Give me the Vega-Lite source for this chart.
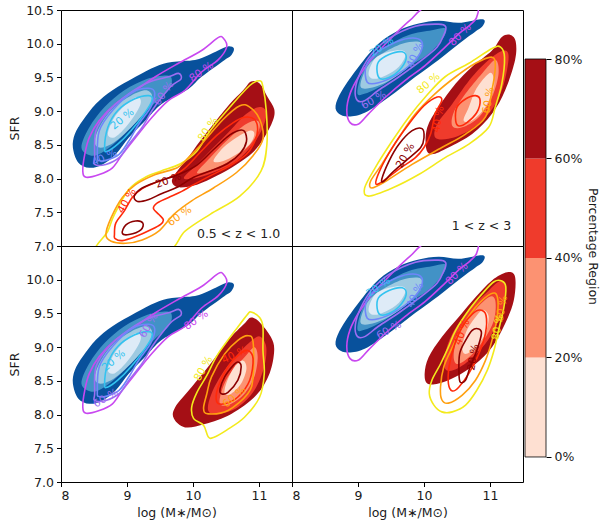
{
"$schema": "https://vega.github.io/schema/vega-lite/v6.json",
"background": "white",
"padding": {"left": 8, "top": 3, "right": 4, "bottom": 5},
"config": {
  "font": "DejaVu Sans",
  "view": {"stroke": "black", "strokeWidth": 1},
  "axis": {"domain": false, "grid": false, "tickColor": "black", "tickSize": 4.5, "labelColor": "#1a1a1a", "labelFontSize": 12.5, "titleFontSize": 12.5, "titleFontWeight": "normal", "titleColor": "#1a1a1a", "labelPadding": 3}
},
"data": {"values": [
{"c":"L","r":"A","k":"b4","x":8.18,"y":8.46},{"c":"L","r":"A","k":"b4","x":8.21,"y":8.66},{"c":"L","r":"A","k":"b4","x":8.33,"y":8.86},{"c":"L","r":"A","k":"b4","x":8.53,"y":9.11},{"c":"L","r":"A","k":"b4","x":8.78,"y":9.31},{"c":"L","r":"A","k":"b4","x":9.13,"y":9.51},{"c":"L","r":"A","k":"b4","x":9.43,"y":9.66},{"c":"L","r":"A","k":"b4","x":9.68,"y":9.73},{"c":"L","r":"A","k":"b4","x":10.03,"y":9.76},{"c":"L","r":"A","k":"b4","x":10.23,"y":9.83},{"c":"L","r":"A","k":"b4","x":10.38,"y":9.90},{"c":"L","r":"A","k":"b4","x":10.53,"y":9.96},{"c":"L","r":"A","k":"b4","x":10.62,"y":9.93},{"c":"L","r":"A","k":"b4","x":10.58,"y":9.83},{"c":"L","r":"A","k":"b4","x":10.48,"y":9.76},{"c":"L","r":"A","k":"b4","x":10.13,"y":9.51},{"c":"L","r":"A","k":"b4","x":9.93,"y":9.33},{"c":"L","r":"A","k":"b4","x":9.53,"y":9.11},{"c":"L","r":"A","k":"b4","x":9.28,"y":8.86},{"c":"L","r":"A","k":"b4","x":9.03,"y":8.61},{"c":"L","r":"A","k":"b4","x":8.83,"y":8.36},{"c":"L","r":"A","k":"b4","x":8.63,"y":8.21},{"c":"L","r":"A","k":"b4","x":8.43,"y":8.16},{"c":"L","r":"A","k":"b4","x":8.26,"y":8.24},
{"c":"L","r":"A","k":"b3","x":8.31,"y":8.46},{"c":"L","r":"A","k":"b3","x":8.43,"y":8.76},{"c":"L","r":"A","k":"b3","x":8.66,"y":9.06},{"c":"L","r":"A","k":"b3","x":8.96,"y":9.31},{"c":"L","r":"A","k":"b3","x":9.31,"y":9.48},{"c":"L","r":"A","k":"b3","x":9.61,"y":9.53},{"c":"L","r":"A","k":"b3","x":9.68,"y":9.46},{"c":"L","r":"A","k":"b3","x":9.63,"y":9.31},{"c":"L","r":"A","k":"b3","x":9.41,"y":9.11},{"c":"L","r":"A","k":"b3","x":9.16,"y":8.86},{"c":"L","r":"A","k":"b3","x":8.91,"y":8.61},{"c":"L","r":"A","k":"b3","x":8.66,"y":8.41},{"c":"L","r":"A","k":"b3","x":8.46,"y":8.34},
{"c":"L","r":"A","k":"b2","x":8.51,"y":8.56},{"c":"L","r":"A","k":"b2","x":8.61,"y":8.81},{"c":"L","r":"A","k":"b2","x":8.81,"y":9.06},{"c":"L","r":"A","k":"b2","x":9.06,"y":9.23},{"c":"L","r":"A","k":"b2","x":9.28,"y":9.31},{"c":"L","r":"A","k":"b2","x":9.38,"y":9.23},{"c":"L","r":"A","k":"b2","x":9.33,"y":9.06},{"c":"L","r":"A","k":"b2","x":9.16,"y":8.86},{"c":"L","r":"A","k":"b2","x":8.96,"y":8.66},{"c":"L","r":"A","k":"b2","x":8.76,"y":8.51},{"c":"L","r":"A","k":"b2","x":8.58,"y":8.46},
{"c":"L","r":"A","k":"b1","x":8.71,"y":8.66},{"c":"L","r":"A","k":"b1","x":8.81,"y":8.91},{"c":"L","r":"A","k":"b1","x":9.01,"y":9.13},{"c":"L","r":"A","k":"b1","x":9.16,"y":9.21},{"c":"L","r":"A","k":"b1","x":9.21,"y":9.13},{"c":"L","r":"A","k":"b1","x":9.13,"y":8.96},{"c":"L","r":"A","k":"b1","x":8.98,"y":8.76},{"c":"L","r":"A","k":"b1","x":8.81,"y":8.61},
{"c":"L","r":"A","k":"p80","x":10.38,"y":10.09},{"c":"L","r":"A","k":"p80","x":10.46,"y":10.08},{"c":"L","r":"A","k":"p80","x":10.51,"y":9.95},{"c":"L","r":"A","k":"p80","x":10.38,"y":9.76},{"c":"L","r":"A","k":"p80","x":10.13,"y":9.58},{"c":"L","r":"A","k":"p80","x":9.88,"y":9.31},{"c":"L","r":"A","k":"p80","x":9.63,"y":9.16},{"c":"L","r":"A","k":"p80","x":9.38,"y":8.91},{"c":"L","r":"A","k":"p80","x":9.13,"y":8.61},{"c":"L","r":"A","k":"p80","x":8.93,"y":8.36},{"c":"L","r":"A","k":"p80","x":8.78,"y":8.16},{"c":"L","r":"A","k":"p80","x":8.58,"y":8.06},{"c":"L","r":"A","k":"p80","x":8.38,"y":8.02},{"c":"L","r":"A","k":"p80","x":8.33,"y":8.11},{"c":"L","r":"A","k":"p80","x":8.36,"y":8.36},{"c":"L","r":"A","k":"p80","x":8.43,"y":8.61},{"c":"L","r":"A","k":"p80","x":8.58,"y":8.86},{"c":"L","r":"A","k":"p80","x":8.83,"y":9.11},{"c":"L","r":"A","k":"p80","x":9.13,"y":9.31},{"c":"L","r":"A","k":"p80","x":9.43,"y":9.51},{"c":"L","r":"A","k":"p80","x":9.78,"y":9.71},{"c":"L","r":"A","k":"p80","x":10.13,"y":9.90},
{"c":"L","r":"A","k":"p60","x":8.51,"y":8.31},{"c":"L","r":"A","k":"p60","x":8.53,"y":8.71},{"c":"L","r":"A","k":"p60","x":8.73,"y":9.01},{"c":"L","r":"A","k":"p60","x":9.03,"y":9.26},{"c":"L","r":"A","k":"p60","x":9.33,"y":9.43},{"c":"L","r":"A","k":"p60","x":9.63,"y":9.51},{"c":"L","r":"A","k":"p60","x":9.78,"y":9.56},{"c":"L","r":"A","k":"p60","x":9.82,"y":9.48},{"c":"L","r":"A","k":"p60","x":9.68,"y":9.38},{"c":"L","r":"A","k":"p60","x":9.53,"y":9.21},{"c":"L","r":"A","k":"p60","x":9.38,"y":9.01},{"c":"L","r":"A","k":"p60","x":9.23,"y":8.76},{"c":"L","r":"A","k":"p60","x":9.03,"y":8.51},{"c":"L","r":"A","k":"p60","x":8.88,"y":8.31},{"c":"L","r":"A","k":"p60","x":8.68,"y":8.21},{"c":"L","r":"A","k":"p60","x":8.51,"y":8.21},
{"c":"L","r":"A","k":"p40","x":8.55,"y":8.33},{"c":"L","r":"A","k":"p40","x":8.58,"y":8.71},{"c":"L","r":"A","k":"p40","x":8.78,"y":9.01},{"c":"L","r":"A","k":"p40","x":9.08,"y":9.28},{"c":"L","r":"A","k":"p40","x":9.33,"y":9.34},{"c":"L","r":"A","k":"p40","x":9.42,"y":9.27},{"c":"L","r":"A","k":"p40","x":9.36,"y":9.06},{"c":"L","r":"A","k":"p40","x":9.18,"y":8.81},{"c":"L","r":"A","k":"p40","x":9.03,"y":8.56},{"c":"L","r":"A","k":"p40","x":8.88,"y":8.36},{"c":"L","r":"A","k":"p40","x":8.68,"y":8.27},{"c":"L","r":"A","k":"p40","x":8.57,"y":8.27},
{"c":"L","r":"A","k":"p20","x":8.66,"y":8.44},{"c":"L","r":"A","k":"p20","x":8.71,"y":8.76},{"c":"L","r":"A","k":"p20","x":8.86,"y":9.01},{"c":"L","r":"A","k":"p20","x":9.11,"y":9.18},{"c":"L","r":"A","k":"p20","x":9.33,"y":9.23},{"c":"L","r":"A","k":"p20","x":9.38,"y":9.16},{"c":"L","r":"A","k":"p20","x":9.26,"y":8.96},{"c":"L","r":"A","k":"p20","x":9.06,"y":8.71},{"c":"L","r":"A","k":"p20","x":8.86,"y":8.51},{"c":"L","r":"A","k":"p20","x":8.71,"y":8.41},
{"c":"L","r":"T","k":"r4","x":10.88,"y":9.44},{"c":"L","r":"T","k":"r4","x":11.01,"y":9.41},{"c":"L","r":"T","k":"r4","x":11.13,"y":9.21},{"c":"L","r":"T","k":"r4","x":11.23,"y":9.03},{"c":"L","r":"T","k":"r4","x":11.21,"y":8.86},{"c":"L","r":"T","k":"r4","x":11.08,"y":8.61},{"c":"L","r":"T","k":"r4","x":10.91,"y":8.39},{"c":"L","r":"T","k":"r4","x":10.66,"y":8.21},{"c":"L","r":"T","k":"r4","x":10.36,"y":8.04},{"c":"L","r":"T","k":"r4","x":10.06,"y":7.91},{"c":"L","r":"T","k":"r4","x":9.78,"y":7.87},{"c":"L","r":"T","k":"r4","x":9.68,"y":7.96},{"c":"L","r":"T","k":"r4","x":9.76,"y":8.11},{"c":"L","r":"T","k":"r4","x":9.91,"y":8.29},{"c":"L","r":"T","k":"r4","x":10.11,"y":8.56},{"c":"L","r":"T","k":"r4","x":10.31,"y":8.81},{"c":"L","r":"T","k":"r4","x":10.56,"y":9.11},{"c":"L","r":"T","k":"r4","x":10.76,"y":9.31},
{"c":"L","r":"T","k":"r3","x":9.86,"y":8.01},{"c":"L","r":"T","k":"r3","x":10.06,"y":8.21},{"c":"L","r":"T","k":"r3","x":10.31,"y":8.46},{"c":"L","r":"T","k":"r3","x":10.56,"y":8.71},{"c":"L","r":"T","k":"r3","x":10.81,"y":8.96},{"c":"L","r":"T","k":"r3","x":11.01,"y":9.06},{"c":"L","r":"T","k":"r3","x":11.11,"y":8.98},{"c":"L","r":"T","k":"r3","x":11.06,"y":8.76},{"c":"L","r":"T","k":"r3","x":10.91,"y":8.51},{"c":"L","r":"T","k":"r3","x":10.66,"y":8.26},{"c":"L","r":"T","k":"r3","x":10.36,"y":8.11},{"c":"L","r":"T","k":"r3","x":10.06,"y":8.01},
{"c":"L","r":"T","k":"r2","x":10.06,"y":8.09},{"c":"L","r":"T","k":"r2","x":10.26,"y":8.31},{"c":"L","r":"T","k":"r2","x":10.51,"y":8.56},{"c":"L","r":"T","k":"r2","x":10.76,"y":8.78},{"c":"L","r":"T","k":"r2","x":10.96,"y":8.86},{"c":"L","r":"T","k":"r2","x":11.01,"y":8.76},{"c":"L","r":"T","k":"r2","x":10.91,"y":8.56},{"c":"L","r":"T","k":"r2","x":10.71,"y":8.36},{"c":"L","r":"T","k":"r2","x":10.46,"y":8.21},{"c":"L","r":"T","k":"r2","x":10.21,"y":8.11},
{"c":"L","r":"T","k":"r1","x":10.31,"y":8.26},{"c":"L","r":"T","k":"r1","x":10.46,"y":8.46},{"c":"L","r":"T","k":"r1","x":10.66,"y":8.61},{"c":"L","r":"T","k":"r1","x":10.86,"y":8.71},{"c":"L","r":"T","k":"r1","x":10.93,"y":8.66},{"c":"L","r":"T","k":"r1","x":10.86,"y":8.51},{"c":"L","r":"T","k":"r1","x":10.66,"y":8.36},{"c":"L","r":"T","k":"r1","x":10.46,"y":8.26},
{"c":"L","r":"T","k":"y80","x":8.56,"y":6.9},{"c":"L","r":"T","k":"y80","x":8.71,"y":7.22},{"c":"L","r":"T","k":"y80","x":8.81,"y":7.47},{"c":"L","r":"T","k":"y80","x":9.03,"y":7.84},{"c":"L","r":"T","k":"y80","x":9.26,"y":8.01},{"c":"L","r":"T","k":"y80","x":9.51,"y":8.11},{"c":"L","r":"T","k":"y80","x":9.81,"y":8.22},{"c":"L","r":"T","k":"y80","x":10.06,"y":8.41},{"c":"L","r":"T","k":"y80","x":10.26,"y":8.71},{"c":"L","r":"T","k":"y80","x":10.56,"y":9.06},{"c":"L","r":"T","k":"y80","x":10.86,"y":9.38},{"c":"L","r":"T","k":"y80","x":11.01,"y":9.45},{"c":"L","r":"T","k":"y80","x":11.06,"y":9.36},{"c":"L","r":"T","k":"y80","x":11.11,"y":9.01},{"c":"L","r":"T","k":"y80","x":11.12,"y":8.51},{"c":"L","r":"T","k":"y80","x":11.03,"y":8.11},{"c":"L","r":"T","k":"y80","x":10.71,"y":7.74},{"c":"L","r":"T","k":"y80","x":10.26,"y":7.47},{"c":"L","r":"T","k":"y80","x":9.88,"y":7.22},{"c":"L","r":"T","k":"y80","x":9.56,"y":6.9},
{"c":"L","r":"T","k":"y60","x":10.11,"y":8.49},{"c":"L","r":"T","k":"y60","x":10.46,"y":8.88},{"c":"L","r":"T","k":"y60","x":10.71,"y":9.08},{"c":"L","r":"T","k":"y60","x":10.86,"y":9.06},{"c":"L","r":"T","k":"y60","x":11.01,"y":8.88},{"c":"L","r":"T","k":"y60","x":11.06,"y":8.59},{"c":"L","r":"T","k":"y60","x":10.91,"y":8.34},{"c":"L","r":"T","k":"y60","x":10.66,"y":8.09},{"c":"L","r":"T","k":"y60","x":10.31,"y":7.86},{"c":"L","r":"T","k":"y60","x":9.98,"y":7.67},{"c":"L","r":"T","k":"y60","x":9.71,"y":7.47},{"c":"L","r":"T","k":"y60","x":9.48,"y":7.22},{"c":"L","r":"T","k":"y60","x":9.23,"y":7.09},{"c":"L","r":"T","k":"y60","x":8.98,"y":7.04},{"c":"L","r":"T","k":"y60","x":8.76,"y":7.07},{"c":"L","r":"T","k":"y60","x":8.68,"y":7.17},{"c":"L","r":"T","k":"y60","x":8.76,"y":7.42},{"c":"L","r":"T","k":"y60","x":8.93,"y":7.72},{"c":"L","r":"T","k":"y60","x":9.13,"y":7.91},{"c":"L","r":"T","k":"y60","x":9.43,"y":8.06},{"c":"L","r":"T","k":"y60","x":9.76,"y":8.16},{"c":"L","r":"T","k":"y60","x":9.93,"y":8.31},
{"c":"L","r":"T","k":"y40","x":8.81,"y":7.17},{"c":"L","r":"T","k":"y40","x":8.83,"y":7.34},{"c":"L","r":"T","k":"y40","x":8.96,"y":7.52},{"c":"L","r":"T","k":"y40","x":9.08,"y":7.72},{"c":"L","r":"T","k":"y40","x":9.23,"y":7.85},{"c":"L","r":"T","k":"y40","x":9.43,"y":7.94},{"c":"L","r":"T","k":"y40","x":9.63,"y":8.01},{"c":"L","r":"T","k":"y40","x":9.86,"y":8.14},{"c":"L","r":"T","k":"y40","x":10.11,"y":8.39},{"c":"L","r":"T","k":"y40","x":10.36,"y":8.64},{"c":"L","r":"T","k":"y40","x":10.61,"y":8.83},{"c":"L","r":"T","k":"y40","x":10.78,"y":8.91},{"c":"L","r":"T","k":"y40","x":10.93,"y":8.88},{"c":"L","r":"T","k":"y40","x":10.98,"y":8.73},{"c":"L","r":"T","k":"y40","x":10.93,"y":8.54},{"c":"L","r":"T","k":"y40","x":10.81,"y":8.36},{"c":"L","r":"T","k":"y40","x":10.56,"y":8.19},{"c":"L","r":"T","k":"y40","x":10.26,"y":8.04},{"c":"L","r":"T","k":"y40","x":10.01,"y":7.91},{"c":"L","r":"T","k":"y40","x":9.83,"y":7.81},{"c":"L","r":"T","k":"y40","x":9.63,"y":7.72},{"c":"L","r":"T","k":"y40","x":9.46,"y":7.64},{"c":"L","r":"T","k":"y40","x":9.40,"y":7.56},{"c":"L","r":"T","k":"y40","x":9.48,"y":7.47},{"c":"L","r":"T","k":"y40","x":9.55,"y":7.39},{"c":"L","r":"T","k":"y40","x":9.51,"y":7.32},{"c":"L","r":"T","k":"y40","x":9.36,"y":7.24},{"c":"L","r":"T","k":"y40","x":9.13,"y":7.14},{"c":"L","r":"T","k":"y40","x":8.93,"y":7.08},{"c":"L","r":"T","k":"y40","x":8.82,"y":7.11},
{"c":"L","r":"T","k":"y20","g":"a","x":10.78,"y":8.70},{"c":"L","r":"T","k":"y20","g":"a","x":10.81,"y":8.55},{"c":"L","r":"T","k":"y20","g":"a","x":10.72,"y":8.38},{"c":"L","r":"T","k":"y20","g":"a","x":10.52,"y":8.22},{"c":"L","r":"T","k":"y20","g":"a","x":10.28,"y":8.12},{"c":"L","r":"T","k":"y20","g":"a","x":10.01,"y":8.02},{"c":"L","r":"T","k":"y20","g":"a","x":9.76,"y":7.87},{"c":"L","r":"T","k":"y20","g":"a","x":9.53,"y":7.78},{"c":"L","r":"T","k":"y20","g":"a","x":9.33,"y":7.69},{"c":"L","r":"T","k":"y20","g":"a","x":9.16,"y":7.66},{"c":"L","r":"T","k":"y20","g":"a","x":9.11,"y":7.74},{"c":"L","r":"T","k":"y20","g":"a","x":9.23,"y":7.86},{"c":"L","r":"T","k":"y20","g":"a","x":9.48,"y":7.96},{"c":"L","r":"T","k":"y20","g":"a","x":9.78,"y":8.06},{"c":"L","r":"T","k":"y20","g":"a","x":10.06,"y":8.2},{"c":"L","r":"T","k":"y20","g":"a","x":10.3,"y":8.42},{"c":"L","r":"T","k":"y20","g":"a","x":10.52,"y":8.62},{"c":"L","r":"T","k":"y20","g":"a","x":10.68,"y":8.71},
{"c":"L","r":"T","k":"y20","g":"b","x":8.93,"y":7.19},{"c":"L","r":"T","k":"y20","g":"b","x":8.98,"y":7.31},{"c":"L","r":"T","k":"y20","g":"b","x":9.13,"y":7.37},{"c":"L","r":"T","k":"y20","g":"b","x":9.24,"y":7.34},{"c":"L","r":"T","k":"y20","g":"b","x":9.21,"y":7.24},{"c":"L","r":"T","k":"y20","g":"b","x":9.03,"y":7.17},
{"c":"R","r":"A","k":"b4","x":8.66,"y":9.08},{"c":"R","r":"A","k":"b4","x":8.76,"y":9.31},{"c":"R","r":"A","k":"b4","x":9.01,"y":9.66},{"c":"R","r":"A","k":"b4","x":9.31,"y":10.00},{"c":"R","r":"A","k":"b4","x":9.62,"y":10.20},{"c":"R","r":"A","k":"b4","x":9.92,"y":10.30},{"c":"R","r":"A","k":"b4","x":10.22,"y":10.34},{"c":"R","r":"A","k":"b4","x":10.53,"y":10.31},{"c":"R","r":"A","k":"b4","x":10.83,"y":10.36},{"c":"R","r":"A","k":"b4","x":10.92,"y":10.34},{"c":"R","r":"A","k":"b4","x":10.88,"y":10.25},{"c":"R","r":"A","k":"b4","x":10.78,"y":10.18},{"c":"R","r":"A","k":"b4","x":10.53,"y":10.00},{"c":"R","r":"A","k":"b4","x":10.22,"y":9.76},{"c":"R","r":"A","k":"b4","x":9.87,"y":9.51},{"c":"R","r":"A","k":"b4","x":9.47,"y":9.21},{"c":"R","r":"A","k":"b4","x":9.11,"y":8.98},{"c":"R","r":"A","k":"b4","x":8.86,"y":8.92},{"c":"R","r":"A","k":"b4","x":8.71,"y":8.96},
{"c":"R","r":"A","k":"b3","x":8.99,"y":9.28},{"c":"R","r":"A","k":"b3","x":9.11,"y":9.66},{"c":"R","r":"A","k":"b3","x":9.42,"y":9.95},{"c":"R","r":"A","k":"b3","x":9.77,"y":10.13},{"c":"R","r":"A","k":"b3","x":10.12,"y":10.20},{"c":"R","r":"A","k":"b3","x":10.32,"y":10.23},{"c":"R","r":"A","k":"b3","x":10.30,"y":10.10},{"c":"R","r":"A","k":"b3","x":10.07,"y":9.85},{"c":"R","r":"A","k":"b3","x":9.77,"y":9.66},{"c":"R","r":"A","k":"b3","x":9.42,"y":9.41},{"c":"R","r":"A","k":"b3","x":9.11,"y":9.26},
{"c":"R","r":"A","k":"b2","x":9.04,"y":9.36},{"c":"R","r":"A","k":"b2","x":9.14,"y":9.66},{"c":"R","r":"A","k":"b2","x":9.36,"y":9.85},{"c":"R","r":"A","k":"b2","x":9.67,"y":10.00},{"c":"R","r":"A","k":"b2","x":9.92,"y":10.03},{"c":"R","r":"A","k":"b2","x":9.97,"y":9.93},{"c":"R","r":"A","k":"b2","x":9.82,"y":9.71},{"c":"R","r":"A","k":"b2","x":9.57,"y":9.51},{"c":"R","r":"A","k":"b2","x":9.26,"y":9.36},
{"c":"R","r":"A","k":"b1","x":9.16,"y":9.56},{"c":"R","r":"A","k":"b1","x":9.26,"y":9.78},{"c":"R","r":"A","k":"b1","x":9.47,"y":9.88},{"c":"R","r":"A","k":"b1","x":9.67,"y":9.90},{"c":"R","r":"A","k":"b1","x":9.72,"y":9.83},{"c":"R","r":"A","k":"b1","x":9.62,"y":9.66},{"c":"R","r":"A","k":"b1","x":9.42,"y":9.53},{"c":"R","r":"A","k":"b1","x":9.24,"y":9.48},
{"c":"R","r":"A","k":"p80","x":9.79,"y":10.35},{"c":"R","r":"A","k":"p80","x":10.07,"y":10.55},{"c":"R","r":"A","k":"p80","x":10.75,"y":10.55},{"c":"R","r":"A","k":"p80","x":10.80,"y":10.40},{"c":"R","r":"A","k":"p80","x":10.70,"y":10.28},{"c":"R","r":"A","k":"p80","x":10.53,"y":10.15},{"c":"R","r":"A","k":"p80","x":10.32,"y":9.95},{"c":"R","r":"A","k":"p80","x":10.02,"y":9.68},{"c":"R","r":"A","k":"p80","x":9.72,"y":9.46},{"c":"R","r":"A","k":"p80","x":9.42,"y":9.21},{"c":"R","r":"A","k":"p80","x":9.16,"y":8.96},{"c":"R","r":"A","k":"p80","x":9.01,"y":8.81},{"c":"R","r":"A","k":"p80","x":8.88,"y":8.83},{"c":"R","r":"A","k":"p80","x":8.83,"y":9.01},{"c":"R","r":"A","k":"p80","x":8.88,"y":9.26},{"c":"R","r":"A","k":"p80","x":9.01,"y":9.51},{"c":"R","r":"A","k":"p80","x":9.21,"y":9.78},{"c":"R","r":"A","k":"p80","x":9.52,"y":10.10},
{"c":"R","r":"A","k":"p60","x":9.87,"y":10.26},{"c":"R","r":"A","k":"p60","x":10.22,"y":10.29},{"c":"R","r":"A","k":"p60","x":10.33,"y":10.25},{"c":"R","r":"A","k":"p60","x":10.30,"y":10.13},{"c":"R","r":"A","k":"p60","x":10.20,"y":9.95},{"c":"R","r":"A","k":"p60","x":9.97,"y":9.76},{"c":"R","r":"A","k":"p60","x":9.62,"y":9.51},{"c":"R","r":"A","k":"p60","x":9.31,"y":9.31},{"c":"R","r":"A","k":"p60","x":9.11,"y":9.16},{"c":"R","r":"A","k":"p60","x":8.99,"y":9.16},{"c":"R","r":"A","k":"p60","x":8.96,"y":9.33},{"c":"R","r":"A","k":"p60","x":9.04,"y":9.58},{"c":"R","r":"A","k":"p60","x":9.21,"y":9.85},{"c":"R","r":"A","k":"p60","x":9.47,"y":10.08},
{"c":"R","r":"A","k":"p40","x":9.14,"y":9.43},{"c":"R","r":"A","k":"p40","x":9.12,"y":9.66},{"c":"R","r":"A","k":"p40","x":9.26,"y":9.85},{"c":"R","r":"A","k":"p40","x":9.52,"y":10.00},{"c":"R","r":"A","k":"p40","x":9.77,"y":10.08},{"c":"R","r":"A","k":"p40","x":9.95,"y":10.05},{"c":"R","r":"A","k":"p40","x":9.96,"y":9.90},{"c":"R","r":"A","k":"p40","x":9.82,"y":9.71},{"c":"R","r":"A","k":"p40","x":9.57,"y":9.53},{"c":"R","r":"A","k":"p40","x":9.31,"y":9.42},
{"c":"R","r":"A","k":"p20","x":9.29,"y":9.58},{"c":"R","r":"A","k":"p20","x":9.31,"y":9.73},{"c":"R","r":"A","k":"p20","x":9.47,"y":9.84},{"c":"R","r":"A","k":"p20","x":9.67,"y":9.88},{"c":"R","r":"A","k":"p20","x":9.73,"y":9.78},{"c":"R","r":"A","k":"p20","x":9.62,"y":9.60},{"c":"R","r":"A","k":"p20","x":9.47,"y":9.50},{"c":"R","r":"A","k":"p20","x":9.34,"y":9.48},
{"c":"R","r":"T","k":"r4","x":11.18,"y":10.10},{"c":"R","r":"T","k":"r4","x":11.31,"y":10.13},{"c":"R","r":"T","k":"r4","x":11.39,"y":10.03},{"c":"R","r":"T","k":"r4","x":11.38,"y":9.76},{"c":"R","r":"T","k":"r4","x":11.23,"y":9.31},{"c":"R","r":"T","k":"r4","x":11.03,"y":8.96},{"c":"R","r":"T","k":"r4","x":10.73,"y":8.66},{"c":"R","r":"T","k":"r4","x":10.37,"y":8.46},{"c":"R","r":"T","k":"r4","x":10.12,"y":8.36},{"c":"R","r":"T","k":"r4","x":10.03,"y":8.46},{"c":"R","r":"T","k":"r4","x":10.05,"y":8.76},{"c":"R","r":"T","k":"r4","x":10.22,"y":9.06},{"c":"R","r":"T","k":"r4","x":10.48,"y":9.41},{"c":"R","r":"T","k":"r4","x":10.73,"y":9.66},{"c":"R","r":"T","k":"r4","x":11.03,"y":9.90},
{"c":"R","r":"T","k":"r3","x":11.23,"y":9.90},{"c":"R","r":"T","k":"r3","x":11.28,"y":9.76},{"c":"R","r":"T","k":"r3","x":11.18,"y":9.31},{"c":"R","r":"T","k":"r3","x":10.98,"y":8.96},{"c":"R","r":"T","k":"r3","x":10.68,"y":8.71},{"c":"R","r":"T","k":"r3","x":10.37,"y":8.59},{"c":"R","r":"T","k":"r3","x":10.17,"y":8.61},{"c":"R","r":"T","k":"r3","x":10.20,"y":8.81},{"c":"R","r":"T","k":"r3","x":10.43,"y":9.11},{"c":"R","r":"T","k":"r3","x":10.73,"y":9.51},{"c":"R","r":"T","k":"r3","x":11.03,"y":9.80},
{"c":"R","r":"T","k":"r2","x":11.08,"y":9.76},{"c":"R","r":"T","k":"r2","x":11.13,"y":9.56},{"c":"R","r":"T","k":"r2","x":11.03,"y":9.21},{"c":"R","r":"T","k":"r2","x":10.83,"y":8.91},{"c":"R","r":"T","k":"r2","x":10.58,"y":8.76},{"c":"R","r":"T","k":"r2","x":10.43,"y":8.78},{"c":"R","r":"T","k":"r2","x":10.45,"y":8.98},{"c":"R","r":"T","k":"r2","x":10.63,"y":9.26},{"c":"R","r":"T","k":"r2","x":10.88,"y":9.56},
{"c":"R","r":"T","k":"r1","x":10.68,"y":9.06},{"c":"R","r":"T","k":"r1","x":10.78,"y":9.31},{"c":"R","r":"T","k":"r1","x":10.93,"y":9.51},{"c":"R","r":"T","k":"r1","x":11.03,"y":9.56},{"c":"R","r":"T","k":"r1","x":11.06,"y":9.36},{"c":"R","r":"T","k":"r1","x":10.93,"y":9.06},{"c":"R","r":"T","k":"r1","x":10.73,"y":8.86},{"c":"R","r":"T","k":"r1","x":10.60,"y":8.86},
{"c":"R","r":"T","k":"y80","x":11.03,"y":9.93},{"c":"R","r":"T","k":"y80","x":11.16,"y":9.95},{"c":"R","r":"T","k":"y80","x":11.22,"y":9.80},{"c":"R","r":"T","k":"y80","x":11.18,"y":9.41},{"c":"R","r":"T","k":"y80","x":11.08,"y":9.06},{"c":"R","r":"T","k":"y80","x":10.98,"y":8.76},{"c":"R","r":"T","k":"y80","x":10.68,"y":8.51},{"c":"R","r":"T","k":"y80","x":10.32,"y":8.31},{"c":"R","r":"T","k":"y80","x":9.92,"y":8.06},{"c":"R","r":"T","k":"y80","x":9.52,"y":7.86},{"c":"R","r":"T","k":"y80","x":9.16,"y":7.74},{"c":"R","r":"T","k":"y80","x":9.10,"y":7.86},{"c":"R","r":"T","k":"y80","x":9.26,"y":8.16},{"c":"R","r":"T","k":"y80","x":9.52,"y":8.56},{"c":"R","r":"T","k":"y80","x":9.77,"y":8.91},{"c":"R","r":"T","k":"y80","x":10.02,"y":9.21},{"c":"R","r":"T","k":"y80","x":10.32,"y":9.51},{"c":"R","r":"T","k":"y80","x":10.68,"y":9.71},
{"c":"R","r":"T","k":"y60","x":11.03,"y":9.80},{"c":"R","r":"T","k":"y60","x":11.08,"y":9.66},{"c":"R","r":"T","k":"y60","x":11.03,"y":9.31},{"c":"R","r":"T","k":"y60","x":10.93,"y":8.91},{"c":"R","r":"T","k":"y60","x":10.63,"y":8.66},{"c":"R","r":"T","k":"y60","x":10.27,"y":8.46},{"c":"R","r":"T","k":"y60","x":9.82,"y":8.21},{"c":"R","r":"T","k":"y60","x":9.42,"y":7.96},{"c":"R","r":"T","k":"y60","x":9.21,"y":7.86},{"c":"R","r":"T","k":"y60","x":9.19,"y":7.96},{"c":"R","r":"T","k":"y60","x":9.36,"y":8.21},{"c":"R","r":"T","k":"y60","x":9.62,"y":8.61},{"c":"R","r":"T","k":"y60","x":9.87,"y":8.96},{"c":"R","r":"T","k":"y60","x":10.17,"y":9.26},{"c":"R","r":"T","k":"y60","x":10.48,"y":9.51},{"c":"R","r":"T","k":"y60","x":10.78,"y":9.71},
{"c":"R","r":"T","k":"y40","g":"a","x":9.27,"y":7.92},{"c":"R","r":"T","k":"y40","g":"a","x":9.34,"y":8.14},{"c":"R","r":"T","k":"y40","g":"a","x":9.52,"y":8.46},{"c":"R","r":"T","k":"y40","g":"a","x":9.77,"y":8.81},{"c":"R","r":"T","k":"y40","g":"a","x":10.00,"y":9.08},{"c":"R","r":"T","k":"y40","g":"a","x":10.20,"y":9.21},{"c":"R","r":"T","k":"y40","g":"a","x":10.27,"y":9.16},{"c":"R","r":"T","k":"y40","g":"a","x":10.17,"y":8.96},{"c":"R","r":"T","k":"y40","g":"a","x":10.10,"y":8.66},{"c":"R","r":"T","k":"y40","g":"a","x":10.00,"y":8.46},{"c":"R","r":"T","k":"y40","g":"a","x":9.87,"y":8.31},{"c":"R","r":"T","k":"y40","g":"a","x":9.62,"y":8.14},{"c":"R","r":"T","k":"y40","g":"a","x":9.42,"y":7.99},
{"c":"R","r":"T","k":"y40","g":"b","x":10.48,"y":8.86},{"c":"R","r":"T","k":"y40","g":"b","x":10.50,"y":9.06},{"c":"R","r":"T","k":"y40","g":"b","x":10.63,"y":9.18},{"c":"R","r":"T","k":"y40","g":"b","x":10.78,"y":9.23},{"c":"R","r":"T","k":"y40","g":"b","x":10.85,"y":9.16},{"c":"R","r":"T","k":"y40","g":"b","x":10.80,"y":8.98},{"c":"R","r":"T","k":"y40","g":"b","x":10.65,"y":8.83},{"c":"R","r":"T","k":"y40","g":"b","x":10.53,"y":8.78},
{"c":"R","r":"T","k":"y20","x":9.36,"y":7.99},{"c":"R","r":"T","k":"y20","x":9.47,"y":8.26},{"c":"R","r":"T","k":"y20","x":9.62,"y":8.51},{"c":"R","r":"T","k":"y20","x":9.82,"y":8.71},{"c":"R","r":"T","k":"y20","x":9.97,"y":8.74},{"c":"R","r":"T","k":"y20","x":10.00,"y":8.61},{"c":"R","r":"T","k":"y20","x":9.95,"y":8.46},{"c":"R","r":"T","k":"y20","x":9.72,"y":8.26},{"c":"R","r":"T","k":"y20","x":9.52,"y":8.09},{"c":"R","r":"T","k":"y20","x":9.39,"y":7.96},
{"c":"L","r":"B","k":"r4","x":10.88,"y":9.44},{"c":"L","r":"B","k":"r4","x":11.01,"y":9.37},{"c":"L","r":"B","k":"r4","x":11.18,"y":9.15},{"c":"L","r":"B","k":"r4","x":11.23,"y":8.95},{"c":"L","r":"B","k":"r4","x":11.16,"y":8.61},{"c":"L","r":"B","k":"r4","x":10.96,"y":8.29},{"c":"L","r":"B","k":"r4","x":10.58,"y":8.01},{"c":"L","r":"B","k":"r4","x":10.18,"y":7.86},{"c":"L","r":"B","k":"r4","x":9.88,"y":7.81},{"c":"L","r":"B","k":"r4","x":9.71,"y":7.94},{"c":"L","r":"B","k":"r4","x":9.73,"y":8.11},{"c":"L","r":"B","k":"r4","x":9.98,"y":8.41},{"c":"L","r":"B","k":"r4","x":10.23,"y":8.71},{"c":"L","r":"B","k":"r4","x":10.53,"y":9.10},{"c":"L","r":"B","k":"r4","x":10.78,"y":9.35},
{"c":"L","r":"B","k":"r3","x":11.03,"y":9.15},{"c":"L","r":"B","k":"r3","x":11.11,"y":9.00},{"c":"L","r":"B","k":"r3","x":11.08,"y":8.71},{"c":"L","r":"B","k":"r3","x":10.93,"y":8.36},{"c":"L","r":"B","k":"r3","x":10.68,"y":8.11},{"c":"L","r":"B","k":"r3","x":10.38,"y":8.01},{"c":"L","r":"B","k":"r3","x":10.23,"y":8.06},{"c":"L","r":"B","k":"r3","x":10.28,"y":8.31},{"c":"L","r":"B","k":"r3","x":10.48,"y":8.66},{"c":"L","r":"B","k":"r3","x":10.73,"y":8.95},{"c":"L","r":"B","k":"r3","x":10.93,"y":9.13},
{"c":"L","r":"B","k":"r2","x":10.93,"y":9.00},{"c":"L","r":"B","k":"r2","x":10.98,"y":8.85},{"c":"L","r":"B","k":"r2","x":10.93,"y":8.56},{"c":"L","r":"B","k":"r2","x":10.78,"y":8.31},{"c":"L","r":"B","k":"r2","x":10.58,"y":8.16},{"c":"L","r":"B","k":"r2","x":10.43,"y":8.14},{"c":"L","r":"B","k":"r2","x":10.41,"y":8.26},{"c":"L","r":"B","k":"r2","x":10.53,"y":8.56},{"c":"L","r":"B","k":"r2","x":10.78,"y":8.85},
{"c":"L","r":"B","k":"r1","x":10.76,"y":8.80},{"c":"L","r":"B","k":"r1","x":10.81,"y":8.68},{"c":"L","r":"B","k":"r1","x":10.73,"y":8.46},{"c":"L","r":"B","k":"r1","x":10.58,"y":8.31},{"c":"L","r":"B","k":"r1","x":10.48,"y":8.31},{"c":"L","r":"B","k":"r1","x":10.51,"y":8.48},{"c":"L","r":"B","k":"r1","x":10.63,"y":8.71},
{"c":"L","r":"B","k":"y80","x":10.88,"y":9.52},{"c":"L","r":"B","k":"y80","x":11.01,"y":9.44},{"c":"L","r":"B","k":"y80","x":11.06,"y":9.30},{"c":"L","r":"B","k":"y80","x":11.06,"y":8.95},{"c":"L","r":"B","k":"y80","x":11.08,"y":8.61},{"c":"L","r":"B","k":"y80","x":11.01,"y":8.26},{"c":"L","r":"B","k":"y80","x":10.78,"y":7.96},{"c":"L","r":"B","k":"y80","x":10.51,"y":7.77},{"c":"L","r":"B","k":"y80","x":10.31,"y":7.66},{"c":"L","r":"B","k":"y80","x":10.23,"y":7.67},{"c":"L","r":"B","k":"y80","x":10.16,"y":7.84},{"c":"L","r":"B","k":"y80","x":10.01,"y":7.94},{"c":"L","r":"B","k":"y80","x":9.98,"y":8.11},{"c":"L","r":"B","k":"y80","x":10.06,"y":8.33},{"c":"L","r":"B","k":"y80","x":10.21,"y":8.58},{"c":"L","r":"B","k":"y80","x":10.38,"y":8.90},{"c":"L","r":"B","k":"y80","x":10.68,"y":9.30},{"c":"L","r":"B","k":"y80","x":10.83,"y":9.49},
{"c":"L","r":"B","k":"y60","x":10.83,"y":9.17},{"c":"L","r":"B","k":"y60","x":10.91,"y":9.08},{"c":"L","r":"B","k":"y60","x":10.91,"y":8.56},{"c":"L","r":"B","k":"y60","x":10.83,"y":8.31},{"c":"L","r":"B","k":"y60","x":10.53,"y":8.06},{"c":"L","r":"B","k":"y60","x":10.23,"y":8.01},{"c":"L","r":"B","k":"y60","x":10.16,"y":8.09},{"c":"L","r":"B","k":"y60","x":10.21,"y":8.31},{"c":"L","r":"B","k":"y60","x":10.28,"y":8.56},{"c":"L","r":"B","k":"y60","x":10.48,"y":8.90},{"c":"L","r":"B","k":"y60","x":10.68,"y":9.10},
{"c":"L","r":"B","k":"y40","x":10.83,"y":8.95},{"c":"L","r":"B","k":"y40","x":10.91,"y":8.83},{"c":"L","r":"B","k":"y40","x":10.86,"y":8.51},{"c":"L","r":"B","k":"y40","x":10.68,"y":8.26},{"c":"L","r":"B","k":"y40","x":10.48,"y":8.16},{"c":"L","r":"B","k":"y40","x":10.36,"y":8.19},{"c":"L","r":"B","k":"y40","x":10.38,"y":8.41},{"c":"L","r":"B","k":"y40","x":10.53,"y":8.71},{"c":"L","r":"B","k":"y40","x":10.71,"y":8.90},
{"c":"L","r":"B","k":"y20","x":10.68,"y":8.78},{"c":"L","r":"B","k":"y20","x":10.73,"y":8.71},{"c":"L","r":"B","k":"y20","x":10.68,"y":8.51},{"c":"L","r":"B","k":"y20","x":10.53,"y":8.33},{"c":"L","r":"B","k":"y20","x":10.43,"y":8.31},{"c":"L","r":"B","k":"y20","x":10.41,"y":8.38},{"c":"L","r":"B","k":"y20","x":10.48,"y":8.56},{"c":"L","r":"B","k":"y20","x":10.61,"y":8.73},
{"c":"R","r":"B","k":"r4","x":11.26,"y":10.11},{"c":"R","r":"B","k":"r4","x":11.38,"y":10.04},{"c":"R","r":"B","k":"r4","x":11.36,"y":9.69},{"c":"R","r":"B","k":"r4","x":11.23,"y":9.35},{"c":"R","r":"B","k":"r4","x":11.03,"y":9.00},{"c":"R","r":"B","k":"r4","x":10.78,"y":8.75},{"c":"R","r":"B","k":"r4","x":10.48,"y":8.56},{"c":"R","r":"B","k":"r4","x":10.22,"y":8.46},{"c":"R","r":"B","k":"r4","x":10.05,"y":8.46},{"c":"R","r":"B","k":"r4","x":10.01,"y":8.61},{"c":"R","r":"B","k":"r4","x":10.07,"y":8.85},{"c":"R","r":"B","k":"r4","x":10.27,"y":9.15},{"c":"R","r":"B","k":"r4","x":10.53,"y":9.45},{"c":"R","r":"B","k":"r4","x":10.78,"y":9.74},{"c":"R","r":"B","k":"r4","x":11.03,"y":9.99},
{"c":"R","r":"B","k":"r3","x":11.13,"y":9.97},{"c":"R","r":"B","k":"r3","x":11.23,"y":9.92},{"c":"R","r":"B","k":"r3","x":11.21,"y":9.64},{"c":"R","r":"B","k":"r3","x":11.11,"y":9.35},{"c":"R","r":"B","k":"r3","x":10.93,"y":9.05},{"c":"R","r":"B","k":"r3","x":10.68,"y":8.80},{"c":"R","r":"B","k":"r3","x":10.45,"y":8.66},{"c":"R","r":"B","k":"r3","x":10.32,"y":8.68},{"c":"R","r":"B","k":"r3","x":10.32,"y":8.90},{"c":"R","r":"B","k":"r3","x":10.43,"y":9.20},{"c":"R","r":"B","k":"r3","x":10.68,"y":9.55},{"c":"R","r":"B","k":"r3","x":10.93,"y":9.79},
{"c":"R","r":"B","k":"r2","x":10.98,"y":9.74},{"c":"R","r":"B","k":"r2","x":11.08,"y":9.69},{"c":"R","r":"B","k":"r2","x":11.06,"y":9.40},{"c":"R","r":"B","k":"r2","x":10.90,"y":9.10},{"c":"R","r":"B","k":"r2","x":10.68,"y":8.85},{"c":"R","r":"B","k":"r2","x":10.50,"y":8.75},{"c":"R","r":"B","k":"r2","x":10.45,"y":8.90},{"c":"R","r":"B","k":"r2","x":10.53,"y":9.20},{"c":"R","r":"B","k":"r2","x":10.73,"y":9.50},
{"c":"R","r":"B","k":"r1","x":10.90,"y":9.55},{"c":"R","r":"B","k":"r1","x":10.98,"y":9.45},{"c":"R","r":"B","k":"r1","x":10.93,"y":9.20},{"c":"R","r":"B","k":"r1","x":10.78,"y":9.00},{"c":"R","r":"B","k":"r1","x":10.63,"y":8.90},{"c":"R","r":"B","k":"r1","x":10.58,"y":9.00},{"c":"R","r":"B","k":"r1","x":10.65,"y":9.25},{"c":"R","r":"B","k":"r1","x":10.80,"y":9.47},
{"c":"R","r":"B","k":"y80","x":11.06,"y":9.97},{"c":"R","r":"B","k":"y80","x":11.18,"y":9.98},{"c":"R","r":"B","k":"y80","x":11.24,"y":9.89},{"c":"R","r":"B","k":"y80","x":11.21,"y":9.59},{"c":"R","r":"B","k":"y80","x":11.13,"y":9.25},{"c":"R","r":"B","k":"y80","x":11.06,"y":8.95},{"c":"R","r":"B","k":"y80","x":10.96,"y":8.66},{"c":"R","r":"B","k":"y80","x":10.80,"y":8.36},{"c":"R","r":"B","k":"y80","x":10.63,"y":8.14},{"c":"R","r":"B","k":"y80","x":10.43,"y":8.04},{"c":"R","r":"B","k":"y80","x":10.27,"y":8.04},{"c":"R","r":"B","k":"y80","x":10.15,"y":8.14},{"c":"R","r":"B","k":"y80","x":10.08,"y":8.31},{"c":"R","r":"B","k":"y80","x":10.12,"y":8.51},{"c":"R","r":"B","k":"y80","x":10.25,"y":8.75},{"c":"R","r":"B","k":"y80","x":10.37,"y":9.00},{"c":"R","r":"B","k":"y80","x":10.48,"y":9.25},{"c":"R","r":"B","k":"y80","x":10.68,"y":9.55},{"c":"R","r":"B","k":"y80","x":10.88,"y":9.79},
{"c":"R","r":"B","k":"y60","x":11.01,"y":9.79},{"c":"R","r":"B","k":"y60","x":11.11,"y":9.75},{"c":"R","r":"B","k":"y60","x":11.11,"y":9.45},{"c":"R","r":"B","k":"y60","x":11.03,"y":9.10},{"c":"R","r":"B","k":"y60","x":10.93,"y":8.80},{"c":"R","r":"B","k":"y60","x":10.78,"y":8.51},{"c":"R","r":"B","k":"y60","x":10.58,"y":8.29},{"c":"R","r":"B","k":"y60","x":10.37,"y":8.17},{"c":"R","r":"B","k":"y60","x":10.27,"y":8.22},{"c":"R","r":"B","k":"y60","x":10.25,"y":8.41},{"c":"R","r":"B","k":"y60","x":10.30,"y":8.71},{"c":"R","r":"B","k":"y60","x":10.43,"y":9.00},{"c":"R","r":"B","k":"y60","x":10.58,"y":9.30},{"c":"R","r":"B","k":"y60","x":10.78,"y":9.59},
{"c":"R","r":"B","k":"y40","x":10.85,"y":9.55},{"c":"R","r":"B","k":"y40","x":10.94,"y":9.47},{"c":"R","r":"B","k":"y40","x":10.93,"y":9.20},{"c":"R","r":"B","k":"y40","x":10.83,"y":8.90},{"c":"R","r":"B","k":"y40","x":10.68,"y":8.61},{"c":"R","r":"B","k":"y40","x":10.53,"y":8.41},{"c":"R","r":"B","k":"y40","x":10.43,"y":8.35},{"c":"R","r":"B","k":"y40","x":10.37,"y":8.46},{"c":"R","r":"B","k":"y40","x":10.38,"y":8.71},{"c":"R","r":"B","k":"y40","x":10.45,"y":9.00},{"c":"R","r":"B","k":"y40","x":10.58,"y":9.30},{"c":"R","r":"B","k":"y40","x":10.73,"y":9.49},
{"c":"R","r":"B","k":"y20","x":10.83,"y":9.27},{"c":"R","r":"B","k":"y20","x":10.87,"y":9.20},{"c":"R","r":"B","k":"y20","x":10.80,"y":8.95},{"c":"R","r":"B","k":"y20","x":10.70,"y":8.71},{"c":"R","r":"B","k":"y20","x":10.63,"y":8.51},{"c":"R","r":"B","k":"y20","x":10.55,"y":8.48},{"c":"R","r":"B","k":"y20","x":10.53,"y":8.61},{"c":"R","r":"B","k":"y20","x":10.54,"y":8.90},{"c":"R","r":"B","k":"y20","x":10.63,"y":9.10},{"c":"R","r":"B","k":"y20","x":10.73,"y":9.25},
{"c":"L","r":"T","k":"p80","t":"80 %","x":10.13,"y":9.58,"a":-35},
{"c":"L","r":"T","k":"p60","t":"60 %","x":9.56,"y":9.26,"a":-55},
{"c":"L","r":"T","k":"p20","t":"20 %","x":8.93,"y":8.88,"a":-40},
{"c":"L","r":"T","k":"p40","t":"40 %","x":8.66,"y":8.31,"a":-25},
{"c":"L","r":"T","k":"y80","t":"80 %","x":10.23,"y":8.73,"a":-55},
{"c":"L","r":"T","k":"y20","t":"20 %","x":9.63,"y":7.97,"a":-20},
{"c":"L","r":"T","k":"y40","t":"40 %","x":9.0,"y":7.67,"a":-60},
{"c":"L","r":"T","k":"y60","t":"60 %","x":9.8,"y":7.44,"a":-35},
{"c":"L","r":"T","k":"title","t":"0.5 < z < 1.0","x":11.32,"y":7.18},
{"c":"R","r":"T","k":"p80","t":"80 %","x":10.55,"y":10.13,"a":-45},
{"c":"R","r":"T","k":"p60","t":"60 %","x":9.24,"y":9.16,"a":-30},
{"c":"R","r":"T","k":"p20","t":"20 %","x":9.36,"y":9.95,"a":-35},
{"c":"R","r":"T","k":"p40","t":"40 %","x":9.87,"y":9.83,"a":-65},
{"c":"R","r":"T","k":"y80","t":"80 %","x":10.07,"y":9.41,"a":-40},
{"c":"R","r":"T","k":"y60","t":"60 %","x":10.98,"y":9.16,"a":-80},
{"c":"R","r":"T","k":"y40","t":"40 %","x":10.22,"y":8.88,"a":-80},
{"c":"R","r":"T","k":"y20","t":"20 %","x":9.72,"y":8.34,"a":-60},
{"c":"R","r":"T","k":"title","t":"1 < z < 3","x":11.32,"y":7.3},
{"c":"L","r":"B","k":"p80","t":"80 %","x":10.05,"y":9.40,"a":-35},
{"c":"L","r":"B","k":"p60","t":"60 %","x":9.33,"y":9.32,"a":-60},
{"c":"L","r":"B","k":"p20","t":"20 %","x":8.8,"y":8.8,"a":-40},
{"c":"L","r":"B","k":"p60","t":"60 %","x":8.68,"y":8.24,"a":-30},
{"c":"L","r":"B","k":"y80","t":"80 %","x":10.16,"y":8.68,"a":-60},
{"c":"L","r":"B","k":"y40","t":"40 %","x":10.63,"y":8.88,"a":-25},
{"c":"L","r":"B","k":"y60","t":"60 %","x":10.63,"y":8.26,"a":-40},
{"c":"R","r":"B","k":"p80","t":"80 %","x":10.50,"y":10.09,"a":-45},
{"c":"R","r":"B","k":"p60","t":"60 %","x":9.47,"y":9.25,"a":-30},
{"c":"R","r":"B","k":"p20","t":"20 %","x":9.31,"y":9.89,"a":-35},
{"c":"R","r":"B","k":"p40","t":"40 %","x":9.87,"y":9.77,"a":-65},
{"c":"R","r":"B","k":"y60","t":"60 %","x":11.18,"y":9.57,"a":-80},
{"c":"R","r":"B","k":"y80","t":"80 %","x":11.12,"y":9.30,"a":-80},
{"c":"R","r":"B","k":"y40","t":"40 %","x":10.58,"y":9.22,"a":-70},
{"c":"R","r":"B","k":"y20","t":"20 %","x":10.75,"y":8.85,"a":-80},
{"c":"CB","k":"r1","lo":0,"hi":20},{"c":"CB","k":"r2","lo":20,"hi":40},{"c":"CB","k":"r3","lo":40,"hi":60},{"c":"CB","k":"r4","lo":60,"hi":80},{"c":"CB","k":"box","lo":0,"hi":80}
]},
"hconcat": [
 {"concat": [
   {"width": 231, "height": 236,
    "transform": [{"filter": "datum.c=='L' && datum.r!='B'"}],
    "encoding": {
     "x": {"field": "x", "type": "quantitative", "scale": {"domain": [8, 11.5], "nice": false, "zero": false}, "axis": null},
     "y": {"field": "y", "type": "quantitative", "scale": {"domain": [7, 10.5], "nice": false, "zero": false}, "axis": {"values": [7,7.5,8,8.5,9,9.5,10,10.5], "format": ".1f", "title": "SFR"}},
     "color": {"field": "k", "type": "nominal", "scale": {"domain": ["b4","b3","b2","b1","r4","r3","r2","r1","p80","p60","p40","p20","y80","y60","y40","y20"], "range": ["#08519c","#4292c6","#9ecae1","#deebf7","#a50f15","#ef3b2c","#fc9272","#fee0d2","#c948f0","#9d6ef2","#6f86fa","#33c3f0","#f3ea1c","#ffa010","#ff2a0a","#8b0000"]}, "legend": null},
     "detail": {"field": "g", "type": "nominal"},
     "order": {"value": null}
    },
    "layer": [
     {"transform": [{"filter": "datum.k=='b4'||datum.k=='r4'"}], "mark": {"type": "line", "filled": true, "interpolate": "cardinal-closed", "clip": true}, "encoding": {}},
     {"transform": [{"filter": "datum.k=='b3'||datum.k=='r3'"}], "mark": {"type": "line", "filled": true, "interpolate": "cardinal-closed", "clip": true}, "encoding": {}},
     {"transform": [{"filter": "datum.k=='b2'||datum.k=='r2'"}], "mark": {"type": "line", "filled": true, "interpolate": "cardinal-closed", "clip": true}, "encoding": {}},
     {"transform": [{"filter": "datum.k=='b1'||datum.k=='r1'"}], "mark": {"type": "line", "filled": true, "interpolate": "cardinal-closed", "clip": true}, "encoding": {}},
     {"transform": [{"filter": "!isValid(datum.t) && length(datum.k)==3"}], "mark": {"type": "line", "interpolate": "cardinal-closed", "strokeWidth": 1.6, "clip": true}, "encoding": {}},
     {"transform": [{"filter": "isValid(datum.t) && datum.k!='title'"}], "mark": {"type": "text", "fontSize": 10.5}, "encoding": {"text": {"field": "t"}, "angle": {"field": "a", "type": "quantitative", "scale": null}}},
     {"transform": [{"filter": "datum.k=='title'"}], "mark": {"type": "text", "align": "right", "fontSize": 12.5}, "encoding": {"text": {"field": "t"}, "color": {"value": "#222222"}}}
    ]
   },
   {"width": 231, "height": 236,
    "transform": [{"filter": "datum.c=='R' && datum.r!='B'"}],
    "encoding": {
     "x": {"field": "x", "type": "quantitative", "scale": {"domain": [8, 11.5], "nice": false, "zero": false}, "axis": null},
     "y": {"field": "y", "type": "quantitative", "scale": {"domain": [7, 10.5], "nice": false, "zero": false}, "axis": null},
     "color": {"field": "k", "type": "nominal", "scale": {"domain": ["b4","b3","b2","b1","r4","r3","r2","r1","p80","p60","p40","p20","y80","y60","y40","y20"], "range": ["#08519c","#4292c6","#9ecae1","#deebf7","#a50f15","#ef3b2c","#fc9272","#fee0d2","#c948f0","#9d6ef2","#6f86fa","#33c3f0","#f3ea1c","#ffa010","#ff2a0a","#8b0000"]}, "legend": null},
     "detail": {"field": "g", "type": "nominal"},
     "order": {"value": null}
    },
    "layer": [
     {"transform": [{"filter": "datum.k=='b4'||datum.k=='r4'"}], "mark": {"type": "line", "filled": true, "interpolate": "cardinal-closed", "clip": true}, "encoding": {}},
     {"transform": [{"filter": "datum.k=='b3'||datum.k=='r3'"}], "mark": {"type": "line", "filled": true, "interpolate": "cardinal-closed", "clip": true}, "encoding": {}},
     {"transform": [{"filter": "datum.k=='b2'||datum.k=='r2'"}], "mark": {"type": "line", "filled": true, "interpolate": "cardinal-closed", "clip": true}, "encoding": {}},
     {"transform": [{"filter": "datum.k=='b1'||datum.k=='r1'"}], "mark": {"type": "line", "filled": true, "interpolate": "cardinal-closed", "clip": true}, "encoding": {}},
     {"transform": [{"filter": "!isValid(datum.t) && length(datum.k)==3"}], "mark": {"type": "line", "interpolate": "cardinal-closed", "strokeWidth": 1.6, "clip": true}, "encoding": {}},
     {"transform": [{"filter": "isValid(datum.t) && datum.k!='title'"}], "mark": {"type": "text", "fontSize": 10.5}, "encoding": {"text": {"field": "t"}, "angle": {"field": "a", "type": "quantitative", "scale": null}}},
     {"transform": [{"filter": "datum.k=='title'"}], "mark": {"type": "text", "align": "right", "fontSize": 12.5}, "encoding": {"text": {"field": "t"}, "color": {"value": "#222222"}}}
    ]
   },
   {"width": 231, "height": 236,
    "transform": [{"filter": "datum.c=='L' && datum.r!='T'"}],
    "encoding": {
     "x": {"field": "x", "type": "quantitative", "scale": {"domain": [8, 11.5], "nice": false, "zero": false}, "axis": {"values": [8,9,10,11], "format": "d", "title": "log (M∗/M⊙)"}},
     "y": {"field": "y", "type": "quantitative", "scale": {"domain": [7, 10.5], "nice": false, "zero": false}, "axis": {"values": [7,7.5,8,8.5,9,9.5,10], "format": ".1f", "title": "SFR"}},
     "color": {"field": "k", "type": "nominal", "scale": {"domain": ["b4","b3","b2","b1","r4","r3","r2","r1","p80","p60","p40","p20","y80","y60","y40","y20"], "range": ["#08519c","#4292c6","#9ecae1","#deebf7","#a50f15","#ef3b2c","#fc9272","#fee0d2","#c948f0","#9d6ef2","#6f86fa","#33c3f0","#f3ea1c","#ffa010","#ff2a0a","#8b0000"]}, "legend": null},
     "detail": {"field": "g", "type": "nominal"},
     "order": {"value": null}
    },
    "layer": [
     {"transform": [{"filter": "datum.k=='b4'||datum.k=='r4'"}], "mark": {"type": "line", "filled": true, "interpolate": "cardinal-closed", "clip": true}, "encoding": {}},
     {"transform": [{"filter": "datum.k=='b3'||datum.k=='r3'"}], "mark": {"type": "line", "filled": true, "interpolate": "cardinal-closed", "clip": true}, "encoding": {}},
     {"transform": [{"filter": "datum.k=='b2'||datum.k=='r2'"}], "mark": {"type": "line", "filled": true, "interpolate": "cardinal-closed", "clip": true}, "encoding": {}},
     {"transform": [{"filter": "datum.k=='b1'||datum.k=='r1'"}], "mark": {"type": "line", "filled": true, "interpolate": "cardinal-closed", "clip": true}, "encoding": {}},
     {"transform": [{"filter": "!isValid(datum.t) && length(datum.k)==3"}], "mark": {"type": "line", "interpolate": "cardinal-closed", "strokeWidth": 1.6, "clip": true}, "encoding": {}},
     {"transform": [{"filter": "isValid(datum.t) && datum.k!='title'"}], "mark": {"type": "text", "fontSize": 10.5}, "encoding": {"text": {"field": "t"}, "angle": {"field": "a", "type": "quantitative", "scale": null}}}
    ]
   },
   {"width": 231, "height": 236,
    "transform": [{"filter": "datum.c=='R' && datum.r!='T'"}],
    "encoding": {
     "x": {"field": "x", "type": "quantitative", "scale": {"domain": [8, 11.5], "nice": false, "zero": false}, "axis": {"values": [8,9,10,11], "format": "d", "title": "log (M∗/M⊙)"}},
     "y": {"field": "y", "type": "quantitative", "scale": {"domain": [7, 10.5], "nice": false, "zero": false}, "axis": null},
     "color": {"field": "k", "type": "nominal", "scale": {"domain": ["b4","b3","b2","b1","r4","r3","r2","r1","p80","p60","p40","p20","y80","y60","y40","y20"], "range": ["#08519c","#4292c6","#9ecae1","#deebf7","#a50f15","#ef3b2c","#fc9272","#fee0d2","#c948f0","#9d6ef2","#6f86fa","#33c3f0","#f3ea1c","#ffa010","#ff2a0a","#8b0000"]}, "legend": null},
     "detail": {"field": "g", "type": "nominal"},
     "order": {"value": null}
    },
    "layer": [
     {"transform": [{"filter": "datum.k=='b4'||datum.k=='r4'"}], "mark": {"type": "line", "filled": true, "interpolate": "cardinal-closed", "clip": true}, "encoding": {}},
     {"transform": [{"filter": "datum.k=='b3'||datum.k=='r3'"}], "mark": {"type": "line", "filled": true, "interpolate": "cardinal-closed", "clip": true}, "encoding": {}},
     {"transform": [{"filter": "datum.k=='b2'||datum.k=='r2'"}], "mark": {"type": "line", "filled": true, "interpolate": "cardinal-closed", "clip": true}, "encoding": {}},
     {"transform": [{"filter": "datum.k=='b1'||datum.k=='r1'"}], "mark": {"type": "line", "filled": true, "interpolate": "cardinal-closed", "clip": true}, "encoding": {}},
     {"transform": [{"filter": "!isValid(datum.t) && length(datum.k)==3"}], "mark": {"type": "line", "interpolate": "cardinal-closed", "strokeWidth": 1.6, "clip": true}, "encoding": {}},
     {"transform": [{"filter": "isValid(datum.t) && datum.k!='title'"}], "mark": {"type": "text", "fontSize": 10.5}, "encoding": {"text": {"field": "t"}, "angle": {"field": "a", "type": "quantitative", "scale": null}}}
    ]
   }
  ], "columns": 2, "spacing": 0, "bounds": "flush"},
 {"width": 21, "height": 472,
  "view": {"stroke": null},
  "transform": [{"filter": "datum.c=='CB'"}],
  "encoding": {
   "y": {"field": "lo", "type": "quantitative", "scale": {"domain": [-5.03, 89.85], "nice": false, "zero": false}, "axis": {"orient": "right", "values": [0,20,40,60,80], "labelExpr": "datum.value + '%'", "title": "Percentage Region", "tickSize": 5, "titlePadding": 4}},
   "y2": {"field": "hi"}
  },
  "layer": [
   {"transform": [{"filter": "datum.k!='box'"}], "mark": {"type": "rect"}, "encoding": {"color": {"field": "k", "type": "nominal", "scale": {"domain": ["b4","b3","b2","b1","r4","r3","r2","r1","p80","p60","p40","p20","y80","y60","y40","y20"], "range": ["#08519c","#4292c6","#9ecae1","#deebf7","#a50f15","#ef3b2c","#fc9272","#fee0d2","#c948f0","#9d6ef2","#6f86fa","#33c3f0","#f3ea1c","#ffa010","#ff2a0a","#8b0000"]}, "legend": null}}},
   {"transform": [{"filter": "datum.k=='box'"}], "mark": {"type": "rect", "filled": false, "stroke": "black", "strokeWidth": 0.8}, "encoding": {}}
  ]
 }
],
"spacing": 0
}
